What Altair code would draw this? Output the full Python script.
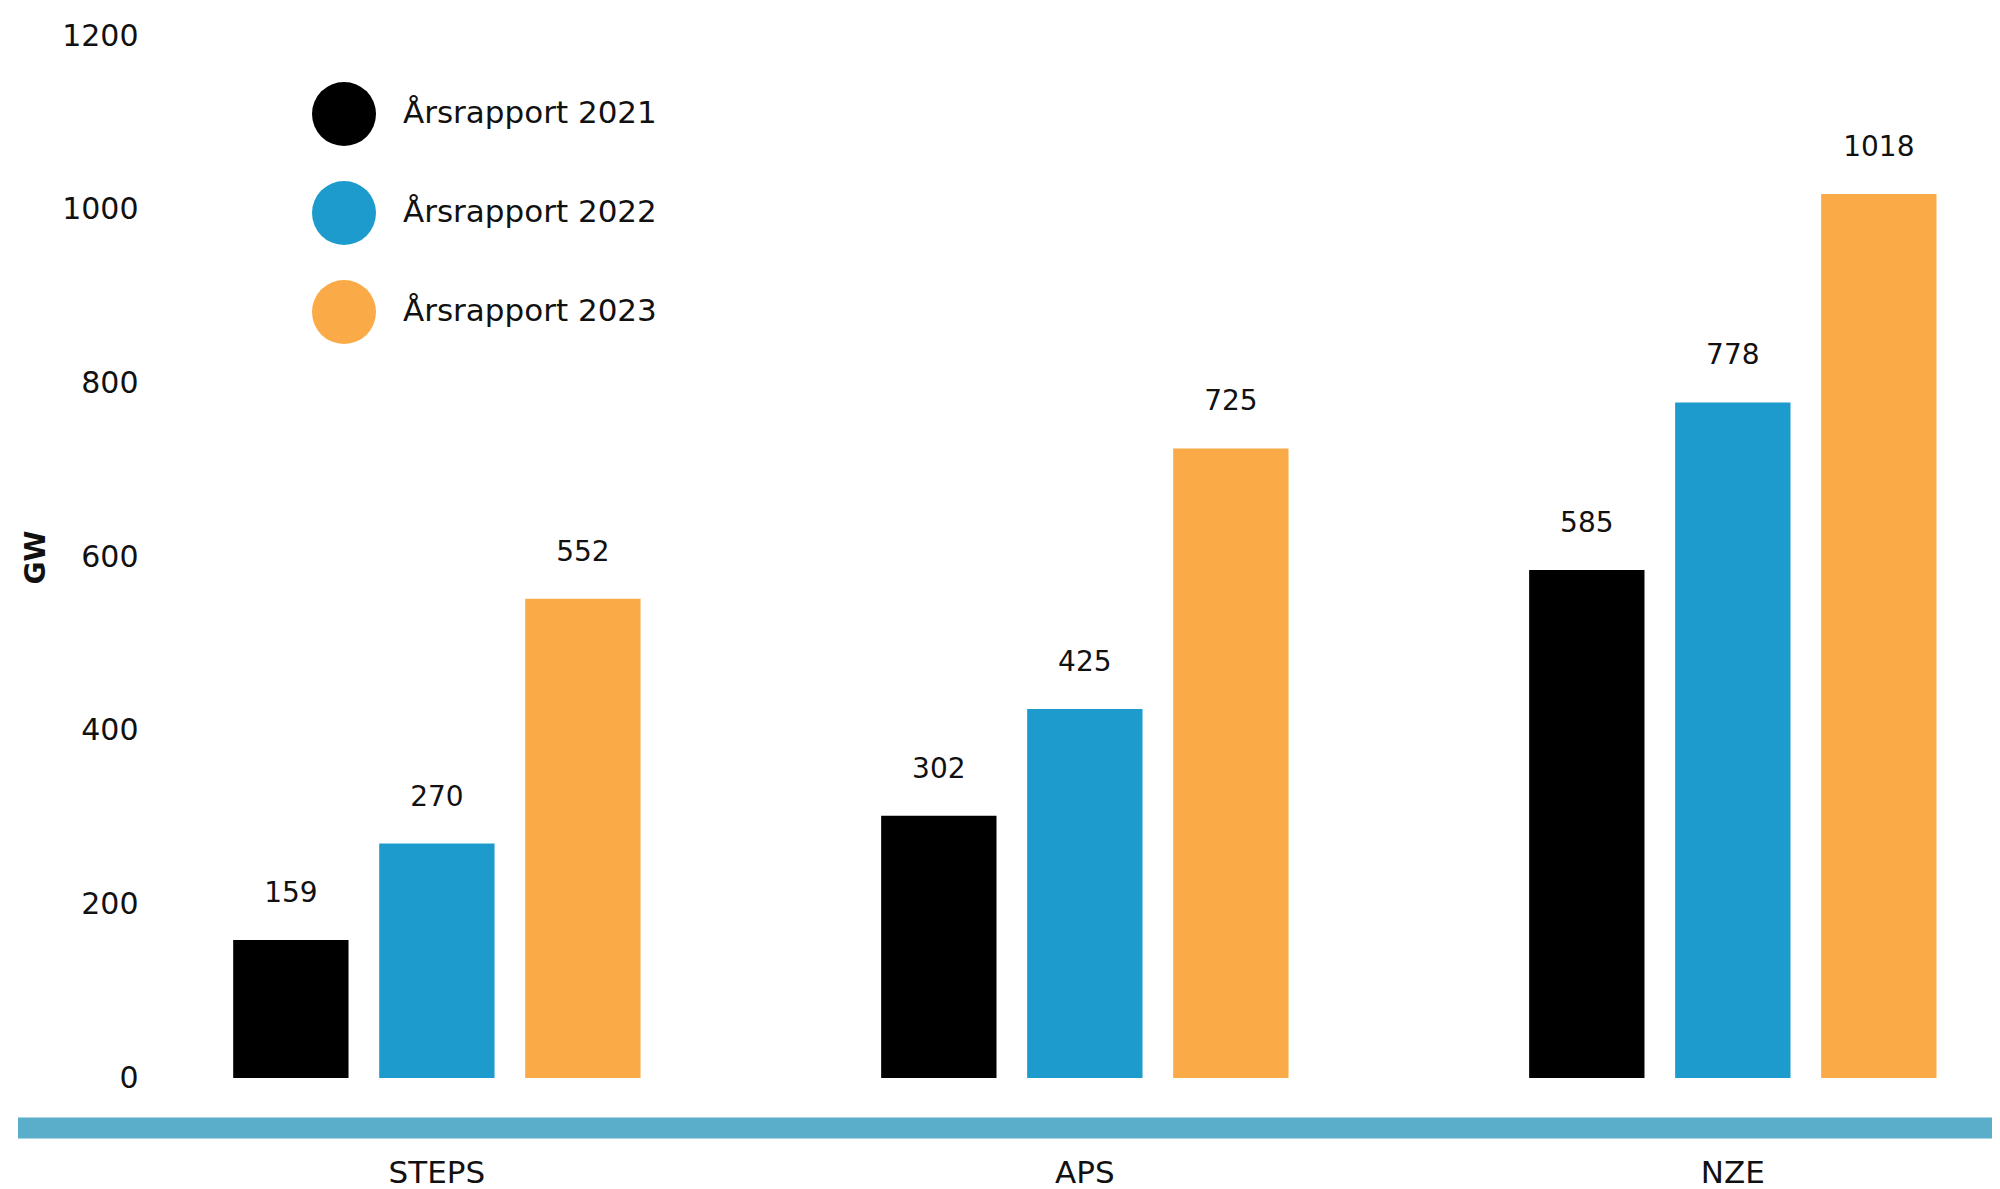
import altair as alt
import pandas as pd

scenarios = ["STEPS", "APS", "NZE"]
reports = ["Årsrapport 2021", "Årsrapport 2022", "Årsrapport 2023"]
colors = ["#000000", "#1D9BCC", "#FAAA46"]
v2021 = [159, 302, 585]
v2022 = [270, 425, 778]
v2023 = [552, 725, 1018]

rows = []
for i, s in enumerate(scenarios):
    for r, vals in zip(reports, [v2021, v2022, v2023]):
        rows.append({"scenario": s, "report": r, "value": vals[i]})
df = pd.DataFrame(rows)

FONT = "DejaVu Sans"
W, H = 1840, 1042

x_enc = alt.X("scenario:N", sort=scenarios,
              scale=alt.Scale(paddingInner=0.324, paddingOuter=0.0818, align=0.64),
              axis=alt.Axis(title=None, domain=False, ticks=False, labelAngle=0,
                            labelPadding=80, labelFontSize=31, labelFont=FONT,
                            labelColor="#111111"))
xo_enc = alt.XOffset("report:N", sort=reports,
                     scale=alt.Scale(paddingInner=0.21, paddingOuter=0.105))
y_enc = alt.Y("value:Q", scale=alt.Scale(domain=[0, 1200], nice=False),
              axis=alt.Axis(title="GW", values=[0, 200, 400, 600, 800, 1000, 1200],
                            format="d",
                            grid=False, domain=False, ticks=False, labelPadding=12,
                            labelFontSize=30, labelFont=FONT, labelColor="#111111",
                            titleFont=FONT, titleFontSize=28, titleFontWeight="bold",
                            titleColor="#111111", titleX=-114, titleBaseline="middle",
                            titleAlign="center"))

bars = alt.Chart(df).mark_bar().encode(
    x=x_enc, xOffset=xo_enc, y=y_enc,
    color=alt.Color("report:N", sort=reports,
                    scale=alt.Scale(domain=reports, range=colors),
                    legend=alt.Legend(orient="none", legendX=162, legendY=46,
                                      title=None, symbolType="circle", symbolSize=4096,
                                      symbolStrokeWidth=0, symbolOpacity=1,
                                      labelFont=FONT, labelFontSize=31, labelLimit=0,
                                      labelColor="#111111", labelOffset=27,
                                      rowPadding=35)),
)

labels = alt.Chart(df).mark_text(baseline="middle", dy=-46, fontSize=28,
                                 font=FONT, color="#111111").encode(
    x=alt.X("scenario:N", sort=scenarios), xOffset=alt.XOffset("report:N", sort=reports),
    y="value:Q", text="value:Q")

band = alt.Chart(pd.DataFrame({"a": [0]})).mark_rule(
    color="#5AAEC9", strokeWidth=21).encode(
    x=alt.value(-132), x2=alt.value(W + 40), y=alt.value(1092))

chart = alt.layer(bars, labels, band).properties(
    width=W, height=H,
    autosize=alt.AutoSizeParams(type="none"),
    padding={"left": 142, "top": 28, "right": 2, "bottom": 110},
).configure_view(stroke=None)

chart.save("out.html", embed_options={"renderer": "svg", "actions": False})
